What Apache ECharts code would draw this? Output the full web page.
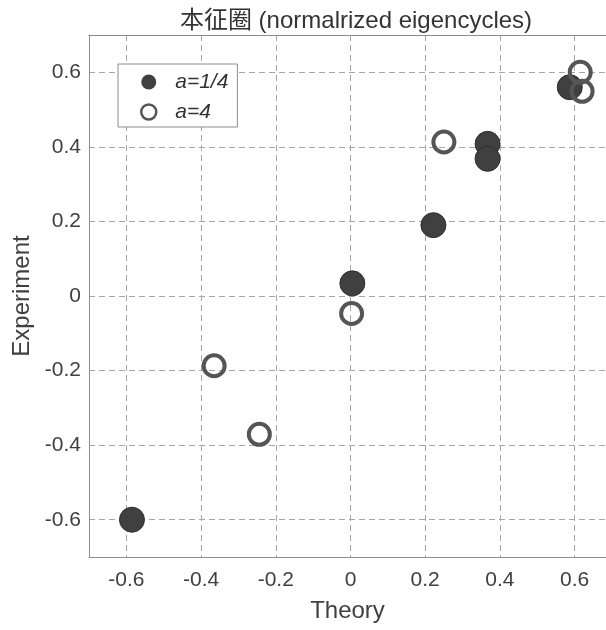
<!DOCTYPE html>
<html>
<head>
<meta charset="utf-8">
<script src="https://cdn.jsdelivr.net/npm/echarts@6/dist/echarts.min.js"></script>
<style>
  html, body { margin: 0; padding: 0; background: #fff; }
  #chart { width: 606px; height: 630px; }
</style>
</head>
<body>
<div id="chart"></div>
<script>
// a=1/4 (filled)
const quarterTheory = [-0.585, 0.005, 0.222, 0.367, 0.367, 0.587]
const quarterExp    = [-0.600, 0.034, 0.190, 0.408, 0.368, 0.560]
// a=4 (open)
const fourTheory = [0.615, 0.620, 0.250, 0.003, -0.365, -0.244]
const fourExp    = [0.600, 0.549, 0.413, -0.047, -0.187, -0.371]
const tickValues = [-0.6, -0.4, -0.2, 0, 0.2, 0.4, 0.6]

const pairs = (xs, ys) => xs.map((x, i) => [x, ys[i]])
const font = "'Liberation Sans', Arial, 'Noto Sans CJK SC', sans-serif"
const axisText = { color: '#404040', fontSize: 21, fontFamily: font }
const gridLine = { show: true, lineStyle: { color: '#a6a6a6', type: [6, 4], width: 1 } }
const boxLine = { show: true, onZero: false, lineStyle: { color: '#8c8c8c', width: 1 } }
// the axes box runs past the right edge of the picture (x max 0.7 is just off canvas)
const xMin = -0.7
const xMax = 0.684

let chart = echarts.init(document.getElementById('chart'))
chart.setOption({
  animation: false,
  title: {
    text: '本征圈 (normalrized eigencycles)',
    left: 351,
    textAlign: 'center',
    top: 4,
    textStyle: { color: '#333', fontSize: 24, fontWeight: 'normal', fontFamily: font }
  },
  grid: { left: 89, top: 35, right: 0, bottom: 73 },
  legend: {
    left: 118, top: 64,
    orient: 'vertical',
    padding: [7, 9, 4, 22],
    itemGap: 8,
    itemWidth: 15, itemHeight: 15,
    backgroundColor: '#fff',
    borderColor: '#8c8c8c', borderWidth: 1, borderRadius: 0,
    textStyle: { fontSize: 21, lineHeight: 22, fontStyle: 'italic', color: '#333', fontFamily: font, padding: [0, 0, 0, 14] },
    data: [
      { name: 'a=1/4', icon: 'circle', itemStyle: { color: '#404040', borderWidth: 0 } },
      { name: 'a=4', icon: 'path://M0,0m-8,0a8,8 0 1,0 16,0a8,8 0 1,0 -16,0z', itemStyle: { color: '#fff', borderColor: '#555', borderWidth: 2.5 } }
    ]
  },
  xAxis: [
    {
      type: 'value', min: xMin, max: xMax, position: 'bottom',
      name: 'Theory', nameLocation: 'middle', nameGap: 42,
      nameTextStyle: { color: '#404040', fontSize: 24, fontFamily: font },
      axisLine: boxLine,
      axisTick: { show: false, customValues: tickValues },
      axisLabel: Object.assign({ customValues: tickValues, margin: 13 }, axisText),
      splitLine: gridLine
    },
    {
      type: 'value', min: xMin, max: xMax, position: 'top',
      axisLine: boxLine,
      axisTick: { show: false },
      axisLabel: { show: false },
      splitLine: { show: false }
    }
  ],
  yAxis: {
    type: 'value', min: -0.7, max: 0.7,
    name: 'Experiment', nameLocation: 'middle', nameGap: 52,
    nameTextStyle: { color: '#404040', fontSize: 24, fontFamily: font },
    axisLine: boxLine,
    axisTick: { show: false, customValues: tickValues },
    axisLabel: Object.assign({ customValues: tickValues, margin: 8 }, axisText),
    splitLine: gridLine
  },
  series: [
    {
      name: 'a=1/4',
      type: 'scatter',
      symbol: 'circle',
      symbolSize: 25,
      itemStyle: { color: '#404040', borderColor: '#2e2e2e', borderWidth: 1, opacity: 1 },
      data: pairs(quarterTheory, quarterExp)
    },
    {
      name: 'a=4',
      type: 'scatter',
      symbol: 'circle',
      symbolSize: 21,
      itemStyle: { color: 'rgba(255,255,255,0)', borderColor: '#555', borderWidth: 4, opacity: 1 },
      data: pairs(fourTheory, fourExp)
    }
  ]
})
</script>
</body>
</html>
